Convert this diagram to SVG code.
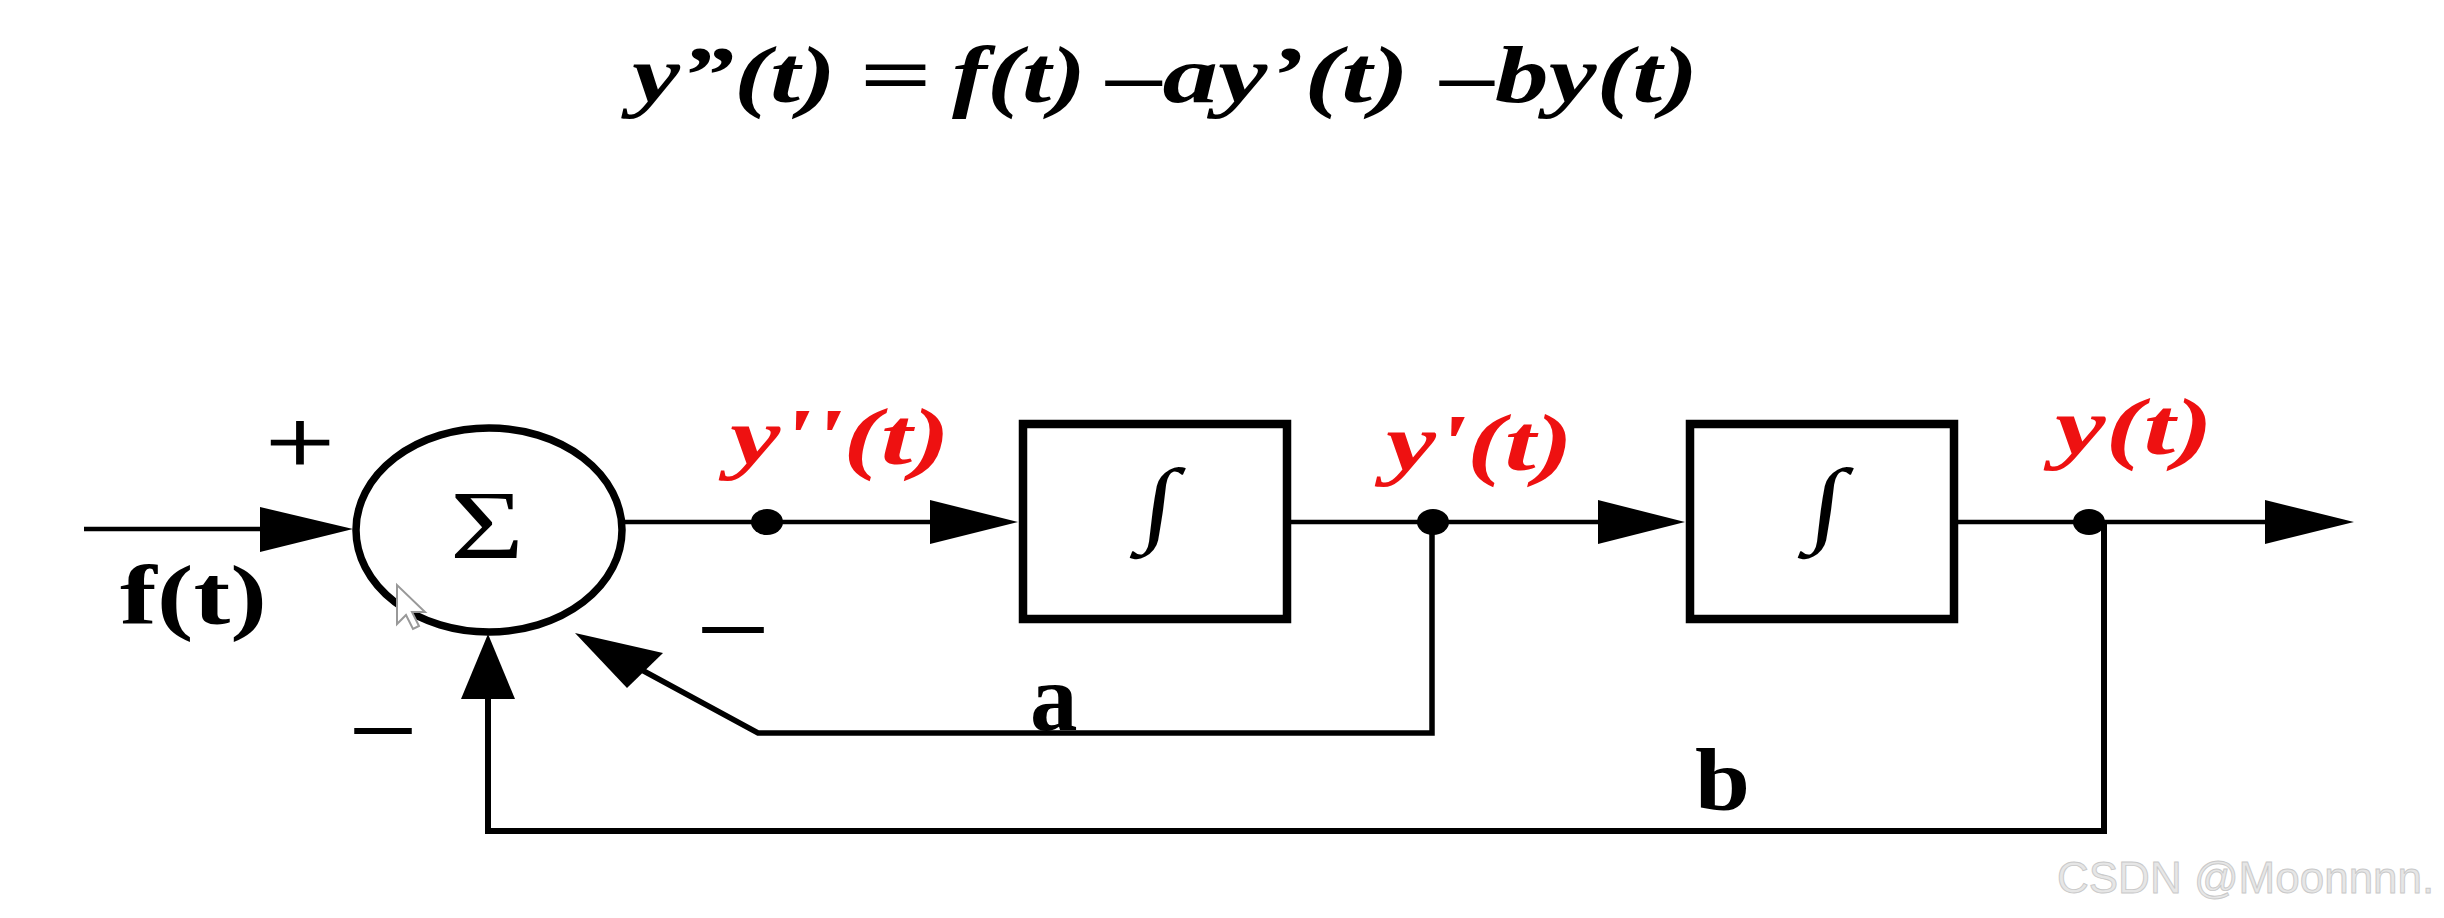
<svg xmlns="http://www.w3.org/2000/svg" width="2444" height="918" viewBox="0 0 2444 918">
<style>
.ser{font-family:"Liberation Serif","Times New Roman",serif}
.ttl{font-family:"Liberation Serif","Times New Roman",serif;font-size:80px;font-weight:bold;font-style:italic;fill:#000}
.red{font-family:"Liberation Serif","Times New Roman",serif;font-size:80px;font-weight:bold;font-style:italic;fill:#ee1111}
.ln{stroke:#000;fill:none;stroke-linecap:butt;stroke-linejoin:miter}
.box{fill:#fff;stroke:#000;stroke-width:8.5}
.ah{fill:#000}
.int{font-family:"Liberation Serif","Times New Roman",serif;font-size:94px}
.wm{font-family:"Liberation Sans",Arial,sans-serif;font-size:44px;fill:#e6e6e6;stroke:#c9c9c9;stroke-width:0.9}
</style>
<rect width="2444" height="918" fill="#fff"/>
<g id="title">
<text class="ttl" x="632" y="102" textLength="204" lengthAdjust="spacingAndGlyphs">y”(t)</text>
<text class="ttl" transform="translate(895,102) scale(1.6,1)" text-anchor="middle">=</text>
<text class="ttl" x="952" y="102" textLength="134" lengthAdjust="spacingAndGlyphs">f(t)</text>
<text class="ttl" x="1107" y="102" textLength="302" lengthAdjust="spacingAndGlyphs">–ay’(t)</text>
<text class="ttl" x="1441" y="102" textLength="257" lengthAdjust="spacingAndGlyphs">–by(t)</text>
</g>
<g id="connectors">
<line class="ln" x1="84" y1="529" x2="262" y2="529" stroke-width="4.5"/>
<polygon class="ah" points="260,507 353,529 260,552"/>
<line class="ln" x1="623" y1="522" x2="935" y2="522" stroke-width="4.5"/>
<polygon class="ah" points="930,500 1018,522 930,544"/>
<line class="ln" x1="1291" y1="522" x2="1602" y2="522" stroke-width="4.5"/>
<polygon class="ah" points="1598,500 1685,522 1598,544"/>
<line class="ln" x1="1958" y1="522" x2="2270" y2="522" stroke-width="4.5"/>
<polygon class="ah" points="2265,500 2354,522 2265,544"/>
<polyline class="ln" points="1432,522 1432,733 758,733 640,669" stroke-width="5.5"/>
<polygon class="ah" points="575,633 663,653 627,688"/>
<polyline class="ln" points="2104,522 2104,831 488,831 488,695" stroke-width="6"/>
<polygon class="ah" points="488,634 515,699 461,699"/>
<ellipse cx="767" cy="522" rx="16" ry="13" fill="#000"/>
<ellipse cx="1433" cy="522" rx="16" ry="13" fill="#000"/>
<ellipse cx="2089" cy="522" rx="16" ry="13" fill="#000"/>
</g>
<g id="sum">
<ellipse cx="489" cy="530" rx="133" ry="102" fill="#fff" stroke="#000" stroke-width="7.5"/>
<text class="ser" x="450" y="558" font-size="98" textLength="74" lengthAdjust="spacingAndGlyphs">Σ</text>
</g>
<g id="int1">
<rect class="box" x="1023" y="424" width="264" height="195"/>
<text class="int" transform="translate(1155,534) scale(1.25,1) skewX(-6)" text-anchor="middle">∫</text>
</g>
<g id="int2">
<rect class="box" x="1690" y="424" width="264" height="195"/>
<text class="int" transform="translate(1823,534) scale(1.25,1) skewX(-6)" text-anchor="middle">∫</text>
</g>
<g id="labels">
<text class="ser" transform="translate(300,473) scale(1.33,1)" font-size="92" text-anchor="middle" stroke="#000" stroke-width="1.2">+</text>
<text class="ser" x="120" y="624" font-size="84" font-weight="bold" textLength="147" lengthAdjust="spacingAndGlyphs">f(t)</text>
<text class="ser" x="703" y="658" font-size="120" textLength="60" lengthAdjust="spacingAndGlyphs">–</text>
<text class="ser" x="355" y="759" font-size="120" textLength="56" lengthAdjust="spacingAndGlyphs">–</text>
<text class="ser" x="1030" y="730" font-size="95" font-weight="bold">a</text>
<text class="ser" x="1695" y="810" font-size="89" font-weight="bold" textLength="55" lengthAdjust="spacingAndGlyphs">b</text>
<text class="red" x="730" y="464" textLength="220" lengthAdjust="spacingAndGlyphs">y''(t)</text>
<text class="red" x="1386" y="470" textLength="187" lengthAdjust="spacingAndGlyphs">y'(t)</text>
<text class="red" x="2055" y="454" textLength="158" lengthAdjust="spacingAndGlyphs">y(t)</text>
</g>
<g id="cursor">
<polygon points="397,585 397,624 406,615 413,629 419,626 412,612 425,612" fill="#fff" stroke="#999" stroke-width="2"/>
</g>
<text class="wm" x="2057" y="893">CSDN @Moonnnn.</text>
</svg>
